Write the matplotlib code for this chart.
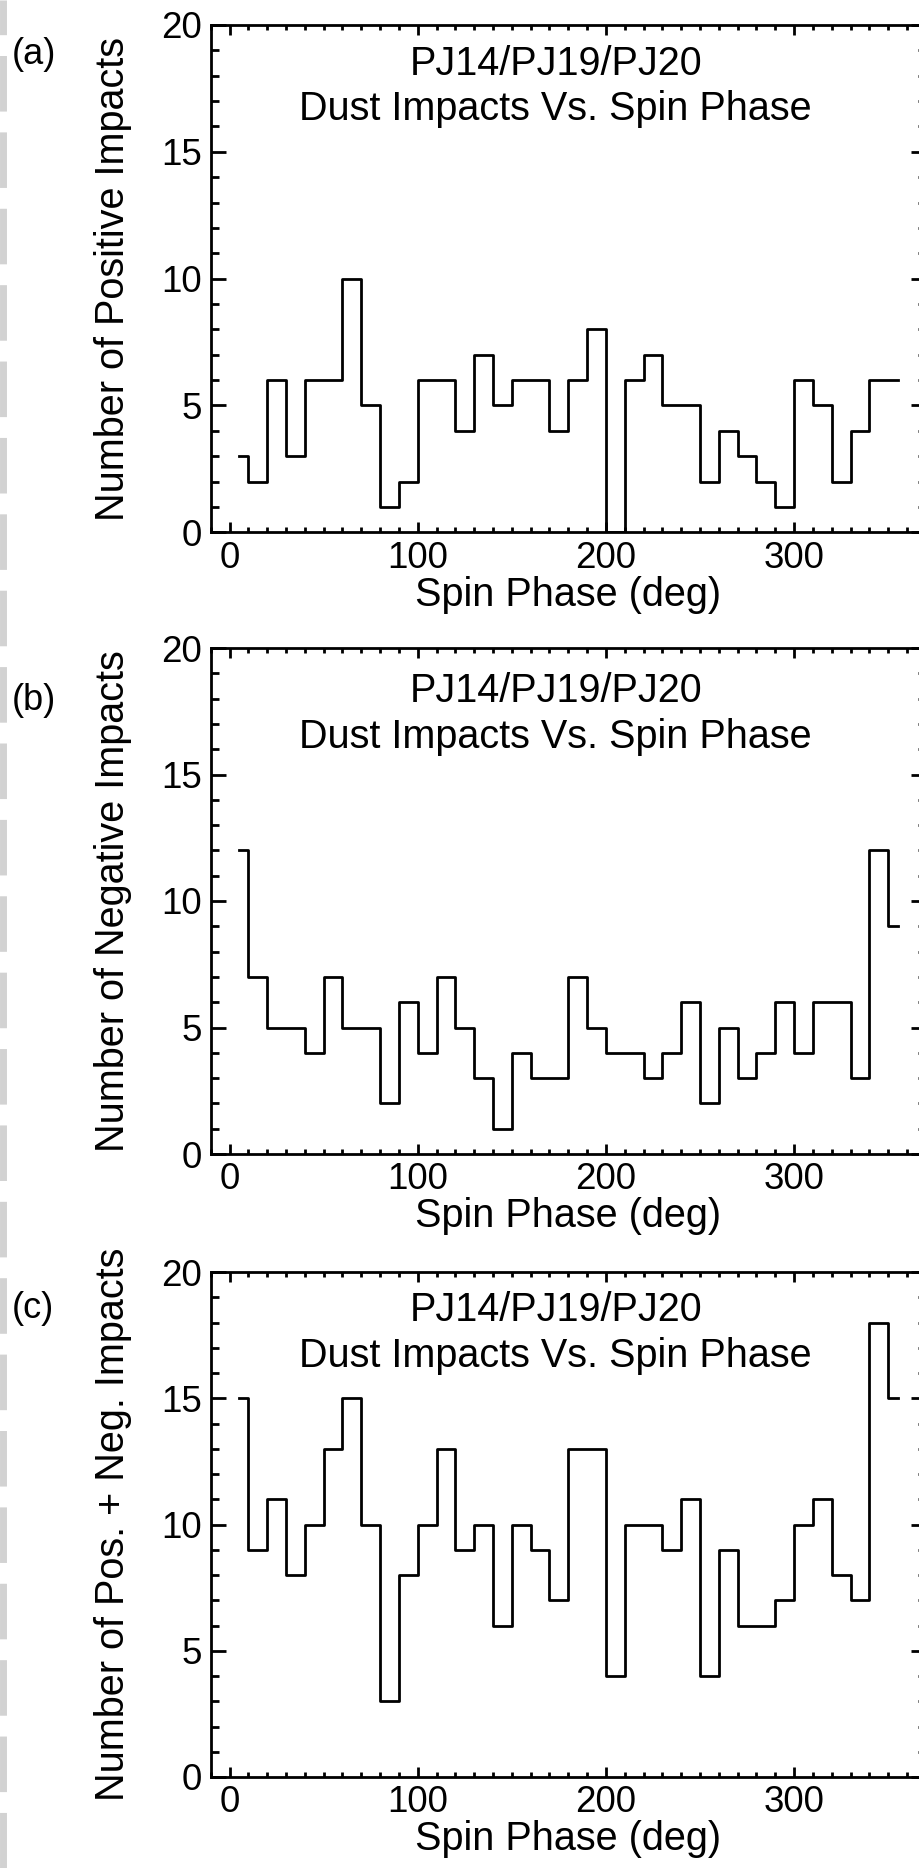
import numpy as np
import matplotlib
matplotlib.use("Agg")
import matplotlib.pyplot as plt
from matplotlib.ticker import MultipleLocator
from matplotlib.lines import Line2D

plt.rcParams['font.family'] = ['Liberation Sans', 'DejaVu Sans']

# spin phase bin centres (deg), 10 deg bins
spin_phase = np.arange(5, 360, 10)

positive = [3, 2, 6, 3, 6, 6, 10, 5, 1, 2, 6, 6, 4, 7, 5, 6, 6, 4,
            6, 8, 0, 6, 7, 5, 5, 2, 4, 3, 2, 1, 6, 5, 2, 4, 6, 6]
negative = [12, 7, 5, 5, 4, 7, 5, 5, 2, 6, 4, 7, 5, 3, 1, 4, 3, 3,
            7, 5, 4, 4, 3, 4, 6, 2, 5, 3, 4, 6, 4, 6, 6, 3, 12, 9]
total = [15, 9, 11, 8, 10, 13, 15, 10, 3, 8, 10, 13, 9, 10, 6, 10, 9, 7,
         13, 13, 4, 10, 10, 9, 11, 4, 9, 6, 6, 7, 10, 11, 8, 7, 18, 15]

panels = ['(a)', '(b)', '(c)']
ylabels = ['Number of Positive Impacts', 'Number of Negative Impacts',
           'Number of Pos. + Neg. Impacts']
series = [positive, negative, total]

W, H = 920, 1868
fig = plt.figure(figsize=(W / 100, H / 100), dpi=100)

# axes boxes in pixels: (top, bottom)
boxes = [(25, 532.3), (648, 1154), (1272, 1777)]
left_px, right_px = 210.7, 925.8
title_off = [(50, 95), (54, 100), (49, 95)]
panel_off = [29, 52, 37]

for i in range(3):
    top, bot = boxes[i]
    ax = fig.add_axes([left_px / W, 1 - bot / H, (right_px - left_px) / W, (bot - top) / H])
    ax.step(spin_phase, series[i], where='mid', color='black', lw=2.0)
    ax.set_xlim(-10, 370)
    ax.set_ylim(0, 20)
    ax.xaxis.set_major_locator(MultipleLocator(100))
    ax.xaxis.set_minor_locator(MultipleLocator(10))
    ax.yaxis.set_major_locator(MultipleLocator(5))
    ax.yaxis.set_minor_locator(MultipleLocator(1))
    ax.tick_params(which='both', direction='in', top=True, right=True,
                   labelsize=26.5, width=2.0, color='black')
    ax.tick_params(axis='x', which='major', length=7, pad=6)
    ax.tick_params(axis='x', which='minor', length=3.5)
    ax.tick_params(axis='y', which='major', length=11, pad=6)
    ax.tick_params(axis='y', which='minor', length=5.5)
    for s in ax.spines.values():
        s.set_linewidth(2.0)
    ax.set_xlabel('Spin Phase (deg)', fontsize=28.5, labelpad=0)
    ax.set_ylabel(ylabels[i], fontsize=28.5)
    ax.yaxis.label.set_va('center')
    ax.yaxis.set_label_coords(-0.137, 0.5)

    h = bot - top
    t1, t2 = title_off[i]
    ax.text(0.4825, 1 - t1 / h, 'PJ14/PJ19/PJ20', transform=ax.transAxes,
            ha='center', va='baseline', fontsize=28.5)
    ax.text(0.4825, 1 - t2 / h, 'Dust Impacts Vs. Spin Phase', transform=ax.transAxes,
            ha='center', va='baseline', fontsize=28.5)

    fig.text(12 / W, 1 - (top + panel_off[i]) / H, panels[i], ha='left', va='center', fontsize=26)

# scanned page edge on the left margin
fig.add_artist(Line2D([3.5 / W, 3.5 / W], [0, 1], transform=fig.transFigure,
                      color='#d2d2d2', lw=5, dashes=(8, 3)))

fig.savefig('out.png', dpi=100)
